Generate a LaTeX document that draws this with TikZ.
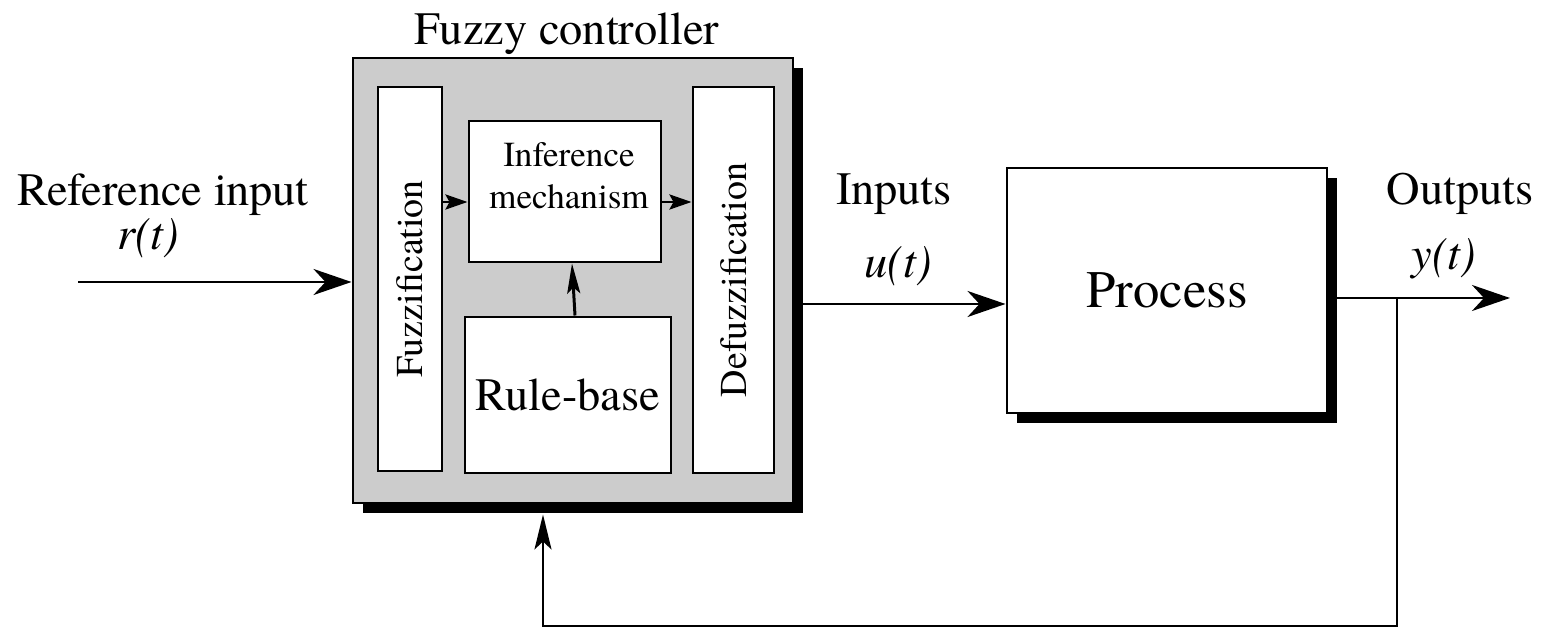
\documentclass[tikz,border=0pt]{standalone}
\usepackage{fontspec}
\setmainfont{texgyretermes-regular.otf}[ItalicFont=texgyretermes-italic.otf]
\usetikzlibrary{arrows.meta}
\usetikzlibrary{shadows}
\definecolor{ctrlgray}{RGB}{204,204,204}

\begin{document}
\begin{tikzpicture}[
  block/.style={draw, line width=0.85pt, fill=white, inner sep=0pt},
  blackshadow/.style={drop shadow={shadow xshift=0.1cm, shadow yshift=-0.1cm, fill=black, opacity=1}},
  sig/.style={line width=0.85pt, -{Stealth[length=0.38cm, width=0.26cm, inset=0.12cm]}},
  fbarrow/.style={line width=0.65pt, -{Stealth[length=0.35cm, width=0.17cm, inset=0.08cm]}},
  inarrow/.style={line width=0.85pt, -{Stealth[length=0.22cm, width=0.15cm, inset=0.04cm]}},
  uparrow/.style={line width=0.85pt, -{Stealth[length=0.3cm, width=0.13cm, inset=0.06cm]}},
  txt/.style={font=\fontsize{13.2}{15}\selectfont, anchor=base, inner sep=0pt},
  sidetxt/.style={font=\fontsize{10.8}{12}\selectfont}
]
\useasboundingbox (0,0) rectangle (15.43,6.29);

% fuzzy controller
\node[block, blackshadow, fill=ctrlgray, minimum width=4.40cm, minimum height=4.45cm] (ctrl) at (5.73,3.485) {};
\node[block, sidetxt, minimum width=0.64cm, minimum height=3.84cm] (fuzz) at (4.10,3.50) {\rotatebox{90}{Fuzzification}};
\node[block, minimum width=1.92cm, minimum height=1.41cm] (infer) at (5.65,4.375) {};
\node[font=\fontsize{10}{11.9}\selectfont, align=center, anchor=north, inner sep=0pt] (infertxt) at (5.69,4.87) {Inference\\mechanism};
\node[block, font=\fontsize{13.2}{15}\selectfont, minimum width=2.06cm, minimum height=1.56cm] (rule) at (5.68,2.34) {Rule-base};
\node[block, sidetxt, minimum width=0.81cm, minimum height=3.86cm] (defuzz) at (7.335,3.49) {\rotatebox{90}{Defuzzification}};

% process
\node[block, blackshadow, font=\fontsize{15}{18}\selectfont, minimum width=3.20cm, minimum height=2.45cm] (proc) at (11.67,3.385) {Process};

% labels
\node[txt] (title) at (5.67,5.84) {Fuzzy controller};
\node[txt] (refin) at (1.63,4.23) {Reference input};
\node[txt] (rt) at (1.48,3.79) {\textit{r(t)}};
\node[txt] (inlab) at (8.94,4.24) {Inputs};
\node[txt] (ut) at (8.98,3.51) {\textit{u(t)}};
\node[txt] (outlab) at (14.60,4.24) {Outputs};
\node[txt] (yt) at (14.44,3.59) {\textit{y(t)}};

% signals
\coordinate (rstart) at (0.78,3.47);
\coordinate (uline) at (0,3.25);
\coordinate (yend) at (15.10,3.31);
\coordinate (tap) at (13.97,3.31);
\coordinate (fbx) at (5.43,0.03);
\coordinate (midline) at (0,4.27);
\draw[sig] (rstart) -- (rstart -| ctrl.west);
\draw[sig] (ctrl.east |- uline) -- (proc.west |- uline);
\draw[sig] (proc.east |- yend) -- (yend);
\draw[fbarrow] (tap) |- (fbx) -- ([yshift=-0.1cm]fbx |- ctrl.south);

% inside the controller
\draw[inarrow] (fuzz.east |- midline) -- (infer.west |- midline);
\draw[inarrow] (infer.east |- midline) -- (defuzz.west |- midline);
\draw[uparrow] ([xshift=0.07cm]rule.north) -- ([xshift=0.07cm]infer.south);
\end{tikzpicture}
\end{document}
